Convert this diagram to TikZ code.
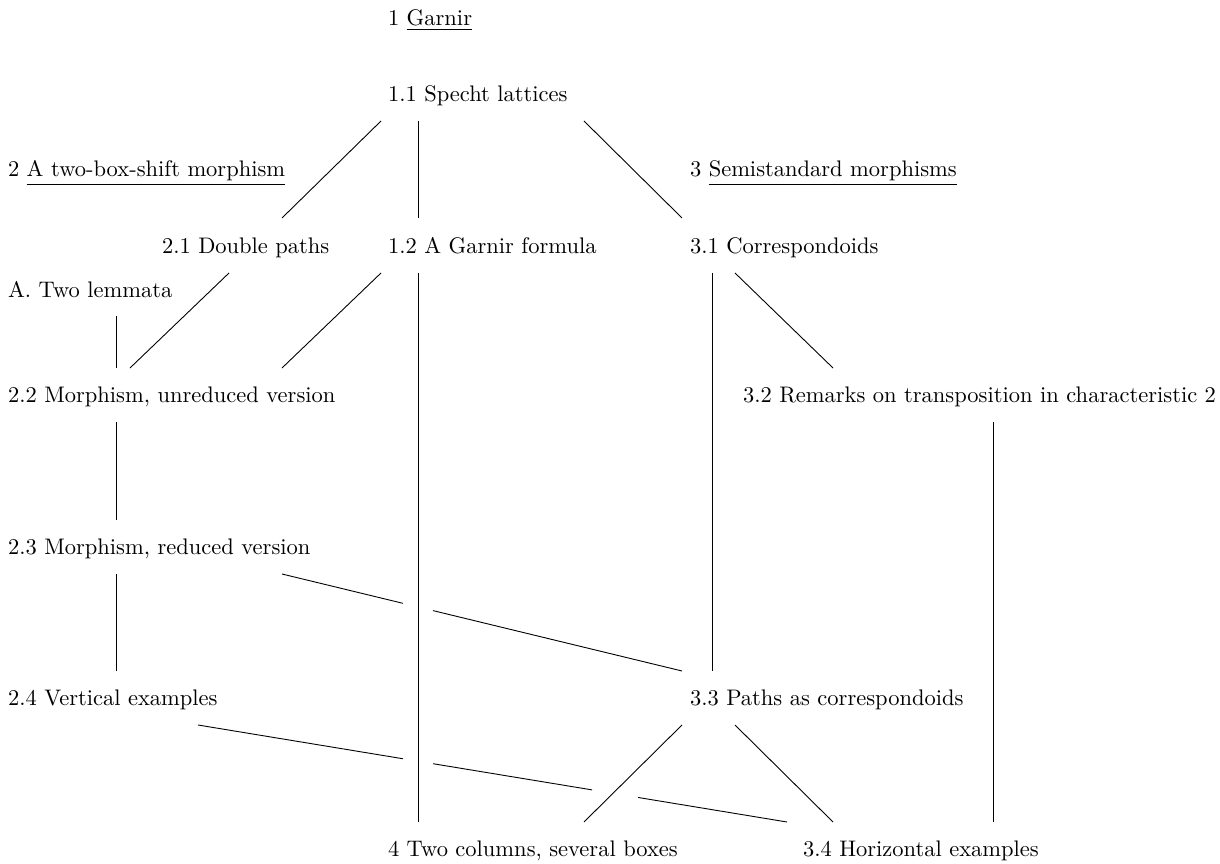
\documentclass[tikz,border=0pt]{standalone}
\usetikzlibrary{calc}
\begin{document}
\begin{tikzpicture}[x=0.4444pt,y=-0.4444pt,
  lbl/.style={anchor=base west,inner sep=0pt,outer sep=0pt,font=\fontsize{10pt}{12pt}\selectfont},
  conn/.style={line width=0.4pt,black}]
\useasboundingbox (0,0) rectangle (1220,864);
% nodes
\node[lbl] (g1)  at (388,26)  {1 \underline{Garnir}};
\node[lbl] (n11) at (388,102) {1.1 Specht lattices};
\node[lbl] (c2)  at (8,177)   {2 \underline{A two-box-shift morphism}};
\node[lbl] (c3)  at (690,177) {3 \underline{Semistandard morphisms}};
\node[lbl] (n21) at (162,254) {2.1 Double paths};
\node[lbl] (n12) at (388,254) {1.2 A Garnir formula};
\node[lbl] (n31) at (690,254) {3.1 Correspondoids};
\node[lbl] (nA)  at (8,298)   {A. Two lemmata};
\node[lbl] (n22) at (8,403)   {2.2 Morphism, unreduced version};
\node[lbl] (n32) at (743,403) {3.2 Remarks on transposition in characteristic 2};
\node[lbl] (n23) at (8,555)   {2.3 Morphism, reduced version};
\node[lbl] (n24) at (8,706)   {2.4 Vertical examples};
\node[lbl] (n33) at (690,706) {3.3 Paths as correspondoids};
\node[lbl] (n4)  at (388,857) {4 Two columns, several boxes};
\node[lbl] (n34) at (803,857) {3.4 Horizontal examples};
% connectors
\draw[conn] ([shift={(-7,19)}]n11.base west) -- ([shift={(120,-36)}]n21.base west);
\draw[conn] ([shift={(30,19)}]n11.base west) -- ([shift={(30,-36)}]n12.base west);
\draw[conn] ([shift={(196,19)}]n11.base west) -- ([shift={(-8,-36)}]n31.base west);
\draw[conn] ([shift={(67,19)}]n21.base west) -- ([shift={(122,-35)}]n22.base west);
\draw[conn] ([shift={(108,18)}]nA.base west) -- ([shift={(108,-35)}]n22.base west);
\draw[conn] ([shift={(-7,19)}]n12.base west) -- ([shift={(274,-35)}]n22.base west);
\draw[conn] ([shift={(30,19)}]n12.base west) -- ([shift={(30,-35)}]n4.base west);
\draw[conn] ([shift={(22,19)}]n31.base west) -- ([shift={(22,-35)}]n33.base west);
\draw[conn] ([shift={(45,19)}]n31.base west) -- ([shift={(90,-35)}]n32.base west);
\draw[conn] ([shift={(108,19)}]n22.base west) -- ([shift={(108,-35)}]n23.base west);
\draw[conn] ([shift={(250,19)}]n32.base west) -- ([shift={(190,-35)}]n34.base west);
\draw[conn] ([shift={(108,19)}]n23.base west) -- ([shift={(108,-35)}]n24.base west);
\draw[conn] ([shift={(-8,19)}]n33.base west) -- ([shift={(196,-35)}]n4.base west);
\draw[conn] ([shift={(45,19)}]n33.base west) -- ([shift={(30,-35)}]n34.base west);
% broken connectors (gaps where they pass under other lines)
\coordinate (e23a) at ([shift={(274,19)}]n23.base west);
\coordinate (e33a) at ([shift={(-8,-35)}]n33.base west);
\draw[conn] (e23a) -- ($(e23a)!0.3025!(e33a)$) ($(e23a)!0.3775!(e33a)$) -- (e33a);
\coordinate (e24a) at ([shift={(190,19)}]n24.base west);
\coordinate (e34a) at ([shift={(-16,-35)}]n34.base west);
\draw[conn] (e24a) -- ($(e24a)!0.348!(e34a)$) ($(e24a)!0.399!(e34a)$) -- ($(e24a)!0.669!(e34a)$) ($(e24a)!0.747!(e34a)$) -- (e34a);
\end{tikzpicture}
\end{document}
